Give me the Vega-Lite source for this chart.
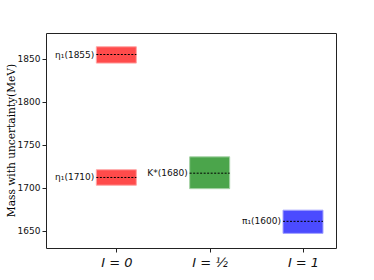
{
  "$schema": "https://vega.github.io/schema/vega-lite/v6.json",
  "width": 290,
  "height": 215,
  "autosize": {"type": "none"},
  "padding": {"left": 46, "top": 33, "right": 38, "bottom": 32},
  "background": "white",
  "config": {
    "view": {"stroke": "#222", "strokeWidth": 1},
    "axis": {"grid": false, "domain": false, "tickColor": "#222", "tickSize": 4, "labelColor": "#111", "labelFont": "DejaVu Sans", "labelFontSize": 9, "labelPadding": 2}
  },
  "data": {
    "values": [
      {"I": 0, "name": "η₁(1855)", "mass": 1855, "low": 1845, "high": 1864, "group": "0"},
      {"I": 0, "name": "η₁(1710)", "mass": 1712, "low": 1703, "high": 1721, "group": "0"},
      {"I": 0.5, "name": "K*(1680)", "mass": 1717, "low": 1699, "high": 1736, "group": "1/2"},
      {"I": 1, "name": "π₁(1600)", "mass": 1661, "low": 1647, "high": 1674, "group": "1"}
    ]
  },
  "encoding": {
    "x": {
      "field": "I", "type": "quantitative",
      "scale": {"domain": [-0.35, 1.15], "nice": false, "zero": false},
      "axis": {"values": [0, 0.5, 1], "title": null, "labelFontSize": 13, "labelFontStyle": "italic", "labelPadding": 4,
        "labelExpr": "datum.value == 0 ? 'I = 0' : (datum.value == 0.5 ? 'I = ½' : 'I = 1')"}
    }
  },
  "layer": [
    {
      "mark": {"type": "bar", "size": 40, "opacity": 0.7, "strokeWidth": 1},
      "encoding": {
        "y": {"field": "low", "type": "quantitative",
          "scale": {"domain": [1630, 1880], "nice": false, "zero": false},
          "axis": {"values": [1650, 1700, 1750, 1800, 1850], "format": "d", "title": "Mass with uncertainty(MeV)", "titleFont": "DejaVu Serif", "titleFontWeight": "normal", "titleFontSize": 10.6, "titleColor": "#000", "titlePadding": 1, "titleY": 107}},
        "y2": {"field": "high"},
        "fill": {"field": "group", "type": "nominal", "scale": {"domain": ["0", "1/2", "1"], "range": ["#ff0000", "#008000", "#0000ff"]}, "legend": null},
        "stroke": {"field": "group", "type": "nominal", "scale": {"domain": ["0", "1/2", "1"], "range": ["#ff8080", "#80c080", "#8080ff"]}, "legend": null}
      }
    },
    {
      "mark": {"type": "rule", "xOffset": -20, "x2Offset": 20, "strokeDash": [2, 1.5], "strokeWidth": 1, "color": "#000"},
      "encoding": {
        "x2": {"field": "I"},
        "y": {"field": "mass", "type": "quantitative"}
      }
    },
    {
      "mark": {"type": "text", "align": "right", "baseline": "middle", "dx": -22, "fontSize": 9, "font": "DejaVu Sans", "color": "#111"},
      "encoding": {
        "y": {"field": "mass", "type": "quantitative"},
        "text": {"field": "name"}
      }
    }
  ]
}
